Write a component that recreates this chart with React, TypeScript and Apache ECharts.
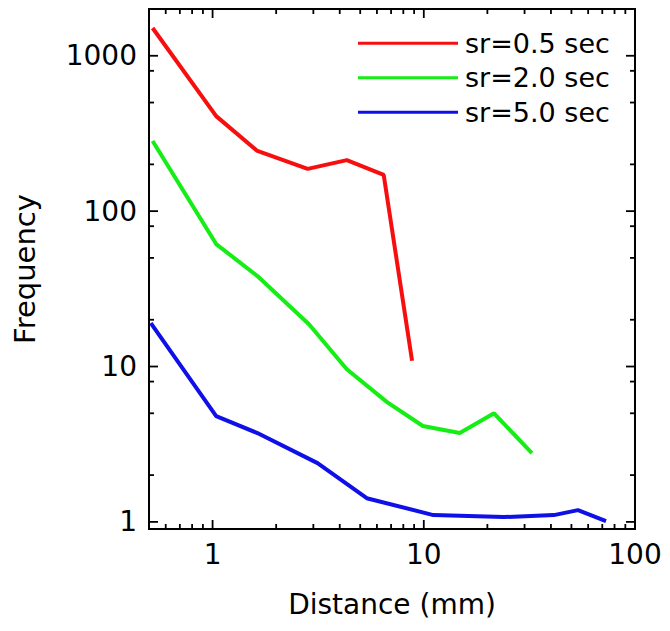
import React, { useEffect, useRef } from "react";
import * as echarts from "echarts";

// ---- Data ----
const seriesNames = ["sr=0.5 sec", "sr=2.0 sec", "sr=5.0 sec"];
const seriesColors = ["#f70f0f", "#14ee14", "#0f0fe8"];

const redX = [0.52, 1.04, 1.63, 2.82, 4.32, 6.46, 8.8];
const redY = [1510, 409, 244, 187, 213, 171, 10.9];

const greenX = [0.52, 1.04, 1.63, 2.86, 4.32, 6.7, 9.9, 14.8, 21.5, 32.5];
const greenY = [283, 61.4, 38.2, 18.7, 9.6, 5.9, 4.14, 3.73, 5.0, 2.77];

const blueX = [0.51, 1.04, 1.63, 3.14, 5.37, 11.1, 23.9, 41.3, 53.7, 72.9];
const blueY = [19.0, 4.8, 3.73, 2.39, 1.42, 1.106, 1.074, 1.106, 1.19, 1.01];

const xRange = [0.5, 100];
const yRange = [0.9, 2000];

const xTickLabels = [1, 10, 100];
const yTickLabels = [1, 10, 100, 1000];

const xMajorTicks = [1, 10];
const xMinorTicks = [0.6, 0.7, 0.8, 0.9, 2, 3, 4, 5, 6, 7, 8, 9, 20, 30, 40, 50, 60, 70, 80, 90];
const yMajorTicks = [1, 10, 100, 1000];
const yMinorTicks = [2, 5, 8, 20, 50, 80, 200, 500, 800];

const FONT = "'DejaVu Sans', 'Liberation Sans', Arial, sans-serif";

function isLabelValue(v: number, list: number[]) {
  return list.some((t) => Math.abs(v - t) / t < 1e-6);
}

export default function App() {
  const ref = useRef<HTMLDivElement>(null);

  useEffect(() => {
    if (!ref.current) return;
    const chart = echarts.init(ref.current, undefined, { renderer: "svg" });

    const zip = (xs: number[], ys: number[]) => xs.map((x, i) => [x, ys[i]]);
    const dataSets = [zip(redX, redY), zip(greenX, greenY), zip(blueX, blueY)];

    const tickStyle = { stroke: "#000", lineWidth: 1.8 };

    const option: any = {
      animation: false,
      backgroundColor: "#fff",
      textStyle: { fontFamily: FONT },
      grid: {
        left: 149,
        right: 35,
        top: 9,
        bottom: 102,
        show: true,
        borderColor: "#000",
        borderWidth: 2,
        backgroundColor: "transparent",
      },
      legend: {
        data: seriesNames,
        orient: "vertical",
        left: 358,
        top: 26,
        padding: 0,
        itemGap: 0,
        icon: "rect",
        itemWidth: 100,
        itemHeight: 3,
        textStyle: {
          fontFamily: FONT,
          fontSize: 27,
          color: "#000",
          lineHeight: 34.5,
          padding: [0, 0, 0, 2],
        },
      },
      xAxis: {
        type: "log",
        logBase: 10,
        min: xRange[0],
        max: xRange[1],
        name: "Distance (mm)",
        nameLocation: "middle",
        nameGap: 61,
        nameTextStyle: { fontFamily: FONT, fontSize: 28, color: "#000" },
        axisLine: { show: false },
        axisTick: { show: false },
        splitLine: { show: false },
        minorTick: { show: false },
        axisLabel: {
          fontFamily: FONT,
          fontSize: 28,
          color: "#000",
          margin: 11,
          showMinLabel: false,
          formatter: (v: number) => (isLabelValue(v, xTickLabels) ? String(Math.round(v)) : ""),
        },
      },
      yAxis: {
        type: "log",
        logBase: 10,
        min: yRange[0],
        max: yRange[1],
        name: "Frequency",
        nameLocation: "middle",
        nameGap: 110,
        nameTextStyle: { fontFamily: FONT, fontSize: 29, color: "#000" },
        axisLine: { show: false },
        axisTick: { show: false },
        splitLine: { show: false },
        minorTick: { show: false },
        axisLabel: {
          fontFamily: FONT,
          fontSize: 28,
          color: "#000",
          margin: 12,
          showMinLabel: false,
          showMaxLabel: false,
          formatter: (v: number) => (isLabelValue(v, yTickLabels) ? String(Math.round(v)) : ""),
        },
      },
      series: [
        ...dataSets.map((d, i) => ({
          name: seriesNames[i],
          type: "line",
          data: d,
          symbol: "none",
          showSymbol: false,
          color: seriesColors[i],
          lineStyle: { color: seriesColors[i], width: 4 },
          z: 3,
        })),
        {
          type: "custom",
          name: "xticks",
          silent: true,
          z: 4,
          encode: { x: 0, y: 1 },
          data: [
            ...xMajorTicks.map((v) => [v, 1, 1]),
            ...xMinorTicks.map((v) => [v, 1, 0]),
          ],
          renderItem: (params: any, api: any) => {
            const v = api.value(0);
            const len = api.value(2) ? 9 : 5;
            const b = api.coord([v, yRange[0]]);
            const t = api.coord([v, yRange[1]]);
            return {
              type: "group",
              children: [
                { type: "line", shape: { x1: b[0], y1: b[1], x2: b[0], y2: b[1] - len }, style: tickStyle },
                { type: "line", shape: { x1: t[0], y1: t[1], x2: t[0], y2: t[1] + len }, style: tickStyle },
              ],
            };
          },
        },
        {
          type: "custom",
          name: "yticks",
          silent: true,
          z: 4,
          encode: { x: 0, y: 1 },
          data: [
            ...yMajorTicks.map((v) => [1, v, 1]),
            ...yMinorTicks.map((v) => [1, v, 0]),
          ],
          renderItem: (params: any, api: any) => {
            const v = api.value(1);
            const len = api.value(2) ? 9 : 5;
            const l = api.coord([xRange[0], v]);
            const r = api.coord([xRange[1], v]);
            return {
              type: "group",
              children: [
                { type: "line", shape: { x1: l[0], y1: l[1], x2: l[0] + len, y2: l[1] }, style: tickStyle },
                { type: "line", shape: { x1: r[0], y1: r[1], x2: r[0] - len, y2: r[1] }, style: tickStyle },
              ],
            };
          },
        },
      ],
    };

    chart.setOption(option);
    return () => chart.dispose();
  }, []);

  return <div ref={ref} style={{ width: 670, height: 631, margin: -8 }} />;
}
